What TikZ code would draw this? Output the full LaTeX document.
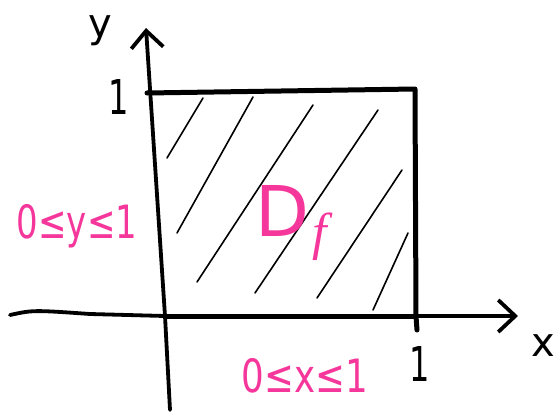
\documentclass[tikz,border=0pt]{standalone}
\usepackage{fontspec}
\usepackage{graphicx}
\setmainfont{DejaVu Sans}
\newfontfamily\scriptf{Liberation Serif}
\usetikzlibrary{arrows.meta}
\definecolor{pinkink}{RGB}{245,55,155}
\begin{document}
\begin{tikzpicture}[x=1pt,y=-1pt,
  axisline/.style={line width=3.8pt, line cap=round, line join=round,
    -{Straight Barb[length=17pt,width=32pt,line width=3.8pt]}},
  boxline/.style={line width=5pt, line cap=round, line join=round},
  hatchline/.style={line width=1.6pt, line cap=round},
  blacklabel/.style={inner sep=0pt, font=\fontsize{40}{40}\selectfont},
  pinklabel/.style={inner sep=0pt, text=pinkink, font=\fontsize{34}{34}\selectfont}]
\useasboundingbox (0,0) rectangle (559,412);
% axes
\coordinate (yb) at (170,410);
\coordinate (o) at (165,316);
\coordinate (yt) at (146,28);
\coordinate (xl) at (10,315);
\coordinate (xk) at (33,310);
\coordinate (xt) at (518,316);
\draw[axisline] (yb) -- (o) -- (yt);
\draw[axisline] (xl) .. controls (xk) .. (90,314) -- (o) -- (xt);
% square
\coordinate (tl) at (147,93);
\coordinate (tr) at (415,89);
\coordinate (br) at (416,316);
\coordinate (bt) at (417,330);
\draw[boxline] (tl) -- (tr) -- (br) -- (bt);
\draw[boxline] (br) -- (o);
% hatching
\draw[hatchline] (167,158) -- (203,98);
\draw[hatchline] (177,233) -- (253,97);
\draw[hatchline] (197,282) -- (313,105);
\draw[hatchline] (255,293) -- (378,110);
\draw[hatchline] (317,298) -- (402,170);
\draw[hatchline] (373,310) -- (408,233);
% labels
\node[blacklabel] (ylab) at (100,31) {y};
\node[blacklabel] (xlab) at (543,346) {x};
\node[blacklabel] (one1) at (119,97) {\scalebox{0.8}[1.2]{1}};
\node[blacklabel] (one2) at (420,364) {\scalebox{0.8}[1.2]{1}};
\node[pinklabel] (ycond) at (77,226) {\scalebox{1}[1.35]{0≤y≤1}};
\node[pinklabel] (xcond) at (305,376) {\scalebox{1.05}[1.35]{0≤x≤1}};
\node[inner sep=0pt, text=pinkink, font=\fontsize{70}{70}\selectfont] (dlab) at (282,211) {D};
\node[inner sep=0pt, text=pinkink, font=\scriptf\itshape\fontsize{52}{52}\selectfont] (flab) at (320,237) {f};
\end{tikzpicture}
\end{document}
